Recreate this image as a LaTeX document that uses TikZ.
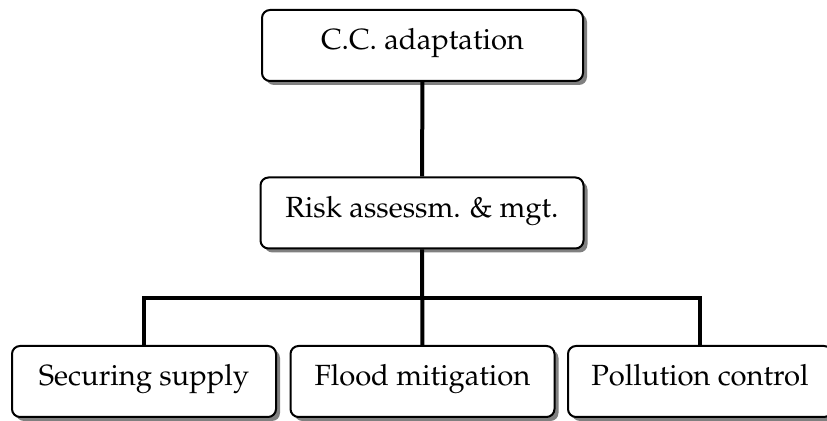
\documentclass[tikz,border=0pt]{standalone}
\usepackage[T1]{fontenc}
\usepackage{mathpazo}
\usetikzlibrary{positioning,shadows}
\tikzset{>=latex}
\tikzset{box/.style={draw, fill=white, rounded corners=4pt, line width=1pt,
    inner sep=0pt, text height=20pt, text depth=15.5pt,
    font=\fontsize{14.6}{17}\selectfont,
    drop shadow={shadow xshift=2pt, shadow yshift=-2pt, opacity=1, fill=black!50}}}
\tikzset{link/.style={line width=2pt}}

\begin{document}
\begin{tikzpicture}[x=0.5pt,y=-0.5pt]
      \clip (0,0) rectangle (827,421);
      \node[box, minimum width=160.5pt] (cca) at (422.5,45.5) {C.C. adaptation};
      \node[box, minimum width=161.5pt] (risk) at (422,213) {Risk assessm. \& mgt.};
      \node[box, minimum width=132pt] (supply) at (144,381.5) {Securing supply};
      \node[box, minimum width=132pt] (flood) at (422.5,381.5) {Flood mitigation};
      \node[box, minimum width=132pt] (pollution) at (700,381.5) {Pollution control};
      \coordinate (bus) at (422,298);
      \draw[link] (cca) -- (risk);
      \draw[link] (risk) -- (flood);
      \draw[link] (supply.north) |- (bus) -| (pollution.north);
    \end{tikzpicture}
\end{document}
